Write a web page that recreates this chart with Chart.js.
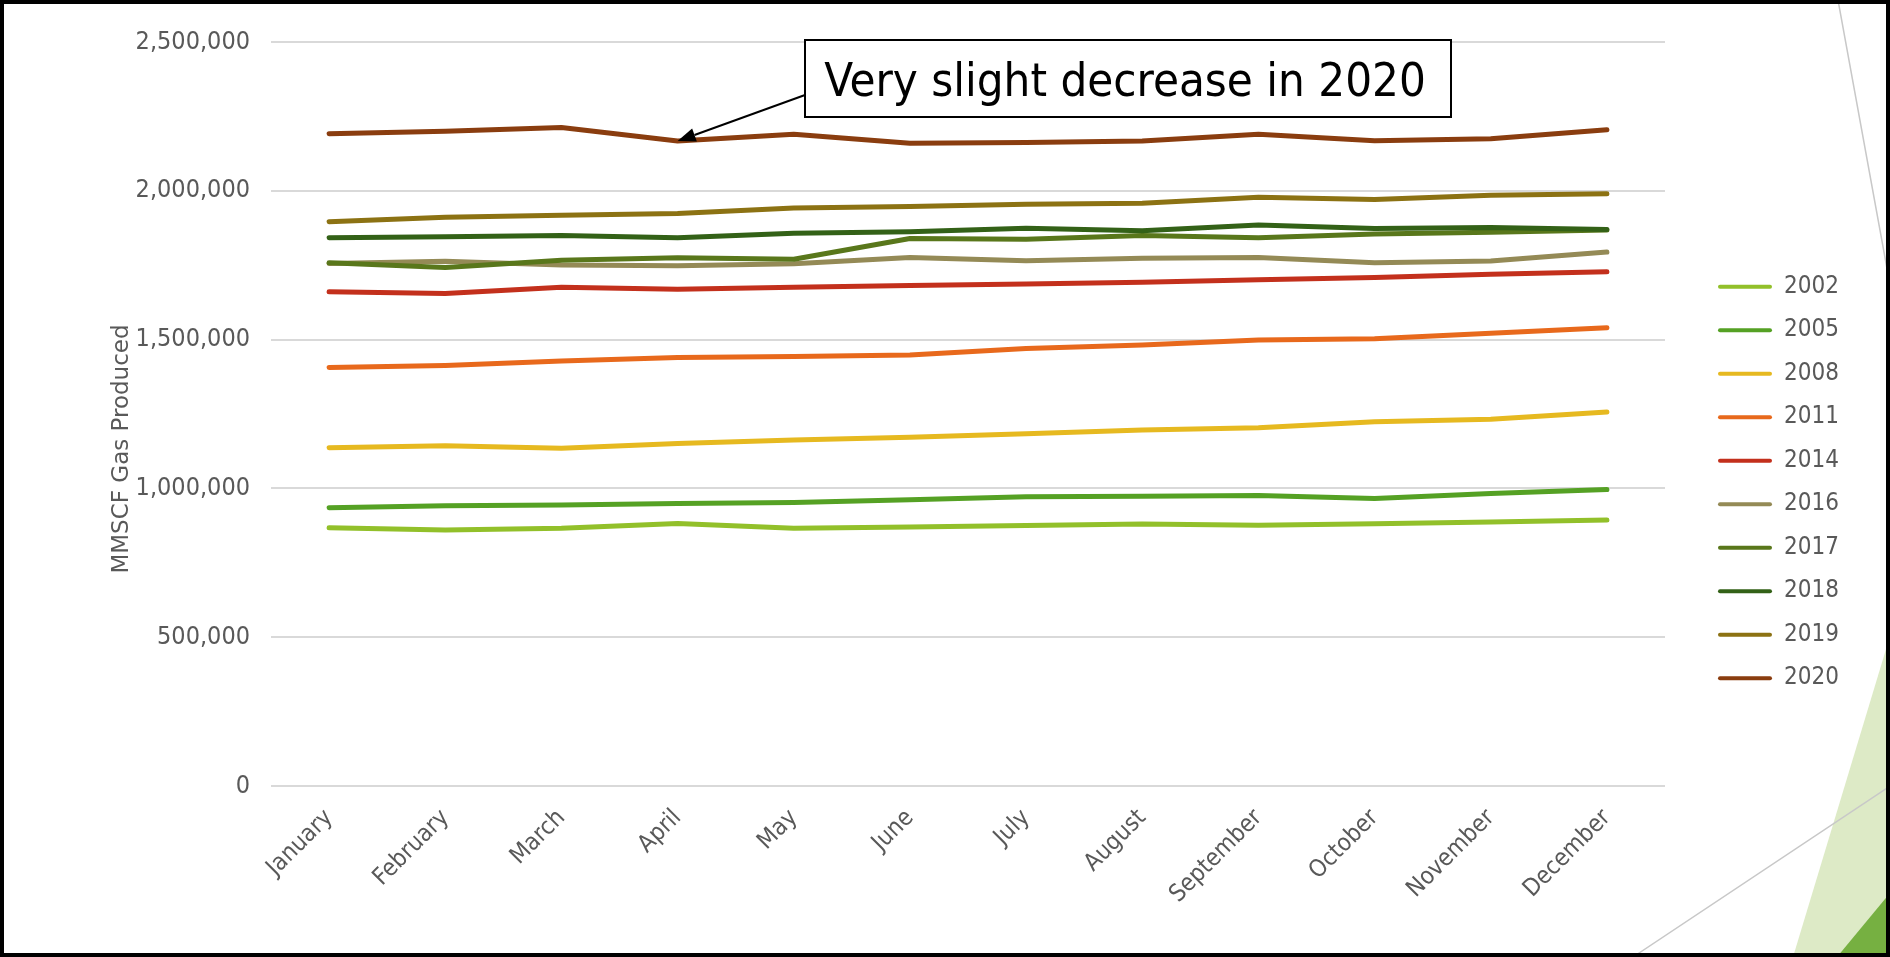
<!DOCTYPE html>
<html>
<head>
<meta charset="utf-8">
<title>Monthly gas production by year</title>
<script src="https://cdn.jsdelivr.net/npm/chart.js@4"></script>
<style>
  html, body { margin: 0; padding: 0; background: #fff; }
  #wrap { width: 1890px; height: 957px; }
</style>
</head>
<body>
<div id="wrap"><canvas id="chartCanvas" width="1890" height="957"></canvas></div>
<script>
// --- data ---
const months = ["January", "February", "March", "April", "May", "June",
  "July", "August", "September", "October", "November", "December"];
const years = ["2002", "2005", "2008", "2011", "2014", "2016", "2017", "2018", "2019", "2020"];
const yearColors = ["#92C02A", "#55A124", "#E6B920", "#E8691C", "#C3301C",
  "#948A56", "#59771B", "#336117", "#8C7213", "#8A3D0F"];

const gas2002 = [868000, 860000, 866000, 882000, 866000, 870000, 875000, 880000, 876000, 881000, 887000, 894000];
const gas2005 = [935000, 942000, 944000, 949000, 953000, 962000, 972000, 974000, 976000, 966000, 983000, 996000];
const gas2008 = [1137000, 1143000, 1135000, 1151000, 1163000, 1172000, 1184000, 1196000, 1204000, 1224000, 1232000, 1257000];
const gas2011 = [1406000, 1413000, 1428000, 1440000, 1443000, 1448000, 1470000, 1482000, 1499000, 1503000, 1521000, 1540000];
const gas2014 = [1661000, 1655000, 1676000, 1669000, 1676000, 1682000, 1687000, 1693000, 1701000, 1709000, 1720000, 1728000];
const gas2016 = [1756000, 1763000, 1751000, 1748000, 1755000, 1776000, 1765000, 1773000, 1776000, 1758000, 1764000, 1794000];
const gas2017 = [1758000, 1742000, 1767000, 1775000, 1770000, 1840000, 1837000, 1850000, 1842000, 1855000, 1861000, 1868000];
const gas2018 = [1842000, 1846000, 1850000, 1842000, 1857000, 1862000, 1874000, 1866000, 1885000, 1873000, 1877000, 1870000];
const gas2019 = [1896000, 1911000, 1918000, 1924000, 1942000, 1947000, 1955000, 1958000, 1978000, 1971000, 1985000, 1990000];
const gas2020 = [2192000, 2200000, 2213000, 2167000, 2190000, 2160000, 2162000, 2167000, 2190000, 2168000, 2175000, 2205000];

const gasByYear = [gas2002, gas2005, gas2008, gas2011, gas2014, gas2016, gas2017, gas2018, gas2019, gas2020];

const yTicks = { min: 0, max: 2500000, step: 500000 };
const yTitle = "MMSCF Gas Produced";
const noteText = "Very slight decrease in 2020";
const noteMonth = 3; // April

const FONT = '"DejaVu Sans Condensed", "DejaVu Sans", sans-serif';
const GREY = "#595959";
const LEGEND_X = 1718; // left edge of the legend swatches
const LEGEND_PAD = 19.5;

// --- slide background shapes + frame ---
const slideDecor = {
  id: "slideDecor",
  beforeDraw(chart) {
    const ctx = chart.ctx;
    ctx.save();
    ctx.fillStyle = "#fff";
    ctx.fillRect(0, 0, chart.width, chart.height);

    ctx.fillStyle = "#DDEAC6";
    ctx.beginPath();
    ctx.moveTo(1793, 957); ctx.lineTo(1890, 636); ctx.lineTo(1890, 957);
    ctx.closePath(); ctx.fill();

    ctx.strokeStyle = "#C8C8C8";
    ctx.lineWidth = 1.5;
    ctx.beginPath();
    ctx.moveTo(1838, 0); ctx.lineTo(1890, 285);
    ctx.moveTo(1633, 957); ctx.lineTo(1890, 786);
    ctx.stroke();

    ctx.fillStyle = "#76B041";
    ctx.beginPath();
    ctx.moveTo(1837, 957); ctx.lineTo(1890, 893); ctx.lineTo(1890, 957);
    ctx.closePath(); ctx.fill();
    ctx.restore();
  },
  afterDraw(chart) {
    const ctx = chart.ctx;
    ctx.save();
    ctx.strokeStyle = "#000";
    ctx.lineWidth = 4;
    ctx.strokeRect(2, 2, chart.width - 4, chart.height - 4);
    ctx.restore();
  }
};

// legend column sits further right (and a touch lower) than the layout puts it
const legendSpot = {
  id: "legendSpot",
  afterLayout(chart) {
    const lg = chart.legend;
    if (!lg) return;
    const w = lg.width;
    lg.left = LEGEND_X - LEGEND_PAD;
    lg.right = lg.left + w;
    lg.top += 4;
    lg.bottom += 4;
  }
};

// rotated y-axis caption, centred a little below the plot middle
const axisCaption = {
  id: "axisCaption",
  afterDraw(chart) {
    const ctx = chart.ctx;
    ctx.save();
    ctx.translate(122, 449);
    ctx.rotate(-Math.PI / 2);
    ctx.font = '23px "DejaVu Sans", sans-serif';
    ctx.fillStyle = GREY;
    ctx.textAlign = "center";
    ctx.textBaseline = "middle";
    ctx.fillText(yTitle, 0, 0);
    ctx.restore();
  }
};

// --- callout box with arrow to the April 2020 point ---
const callout = {
  id: "callout",
  afterDatasetsDraw(chart) {
    const ctx = chart.ctx;
    const tipX = chart.scales.x.getPixelForValue(noteMonth);
    const tipY = chart.scales.y.getPixelForValue(gas2020[noteMonth]);
    const box = { x: 805, y: 40, w: 646, h: 77 };
    const fromX = box.x, fromY = 95;

    ctx.save();
    ctx.fillStyle = "#fff";
    ctx.fillRect(box.x, box.y, box.w, box.h);
    ctx.strokeStyle = "#000";
    ctx.lineWidth = 2;
    ctx.strokeRect(box.x, box.y, box.w, box.h);

    ctx.fillStyle = "#000";
    ctx.font = `47px ${FONT}`;
    ctx.textAlign = "center";
    ctx.textBaseline = "alphabetic";
    ctx.fillText(noteText, box.x + box.w / 2 - 3, 96);

    // arrow shaft
    const ang = Math.atan2(tipY - fromY, tipX - fromX);
    const headLen = 18, headW = 7;
    const baseX = tipX - headLen * Math.cos(ang);
    const baseY = tipY - headLen * Math.sin(ang);
    ctx.lineWidth = 2;
    ctx.beginPath();
    ctx.moveTo(fromX, fromY);
    ctx.lineTo(baseX, baseY);
    ctx.stroke();
    // arrow head
    ctx.beginPath();
    ctx.moveTo(tipX, tipY);
    ctx.lineTo(baseX + headW * Math.sin(ang), baseY - headW * Math.cos(ang));
    ctx.lineTo(baseX - headW * Math.sin(ang), baseY + headW * Math.cos(ang));
    ctx.closePath();
    ctx.fill();
    ctx.restore();
  }
};

const datasets = years.map((yr, i) => ({
  label: yr,
  data: gasByYear[i],
  borderColor: yearColors[i],
  backgroundColor: yearColors[i],
  borderWidth: 5,
  borderCapStyle: "round",
  borderJoinStyle: "round",
  pointRadius: 0,
  tension: 0,
  fill: false,
  order: years.length - i // later years drawn on top
}));

new Chart(document.getElementById("chartCanvas"), {
  type: "line",
  data: { labels: months, datasets },
  options: {
    responsive: false,
    animation: false,
    layout: { padding: { right: 0 } },
    plugins: {
      tooltip: { enabled: false },
      legend: {
        position: "right",
        align: "center",
        labels: {
          font: { family: FONT, size: 24 },
          color: GREY,
          boxWidth: 54,
          boxHeight: 4,
          padding: LEGEND_PAD,
          useBorderRadius: true,
          borderRadius: 2,
          sort: (a, b) => a.datasetIndex - b.datasetIndex,
          generateLabels(chart) {
            return Chart.defaults.plugins.legend.labels.generateLabels(chart)
              .map(l => ({ ...l, fillStyle: l.strokeStyle, lineWidth: 0, borderRadius: 2 }));
          }
        }
      }
    },
    scales: {
      x: {
        offset: true,
        grid: { display: false },
        border: { display: false },
        ticks: {
          font: { family: FONT, size: 24 },
          color: GREY,
          minRotation: 45,
          maxRotation: 45,
          autoSkip: false,
          padding: 10
        },
        afterFit(scale) {
          scale.height = 171;
          scale.paddingRight = 225;
        }
      },
      y: {
        min: yTicks.min,
        max: yTicks.max,
        border: { display: false },
        grid: { color: "#D9D9D9", lineWidth: 2, drawTicks: false },
        ticks: {
          stepSize: yTicks.step,
          font: { family: FONT, size: 25 },
          color: GREY,
          padding: 21,
          callback: v => v.toLocaleString("en-US")
        },
        title: { display: false },
        afterFit(scale) {
          scale.width = 271;
          scale.paddingTop = 42;
        }
      }
    }
  },
  plugins: [slideDecor, legendSpot, axisCaption, callout]
});
</script>
</body>
</html>
